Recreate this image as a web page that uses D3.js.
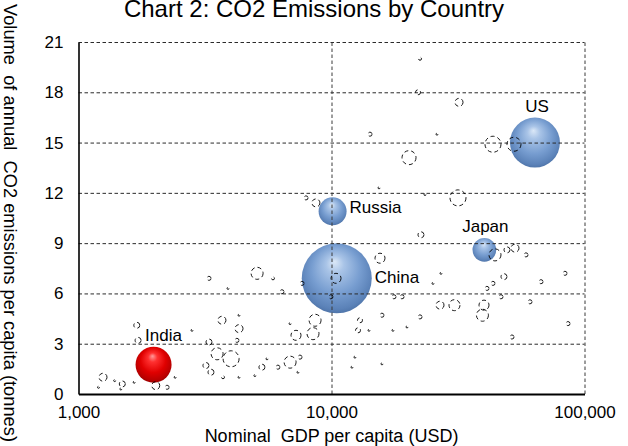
<!DOCTYPE html>
<html>
<head>
<meta charset="utf-8">
<script src="https://cdn.jsdelivr.net/npm/d3@7"></script>
<style>
  html, body { margin: 0; padding: 0; background: #fff; }
  svg { display: block; font-family: "Liberation Sans", Arial, sans-serif; }
</style>
</head>
<body>
<svg id="chart" width="628" height="446"></svg>
<script>
// ---- chart text ----
const chartTitle = "Chart 2: CO2 Emissions by Country";
const xTitle = "Nominal\u00a0 GDP per capita (USD)";
const yTitle = "Volume\u00a0 of annual\u00a0 CO2 emissions per capita (tonnes)";

// ---- labelled countries ----
const majorCountries = ["US", "China", "Japan", "Russia", "India"];
const majorGdp       = [63700, 10490, 40200, 10100, 1980];   // USD per capita
const majorCo2       = [15.0, 6.9, 8.6, 10.9, 1.75];         // tonnes per capita
const majorEmissions = [5100, 10000, 1150, 1600, 2650];      // total, Mt

// ---- all other countries ----
const otherGdp = [
  22380, 21980, 31920, 14200, 26120, 43480, 52640, 20250, 15410, 23420,
  31620, 7930, 8680, 22580, 15550, 44280, 49390, 53130, 58720, 48060,
  43480, 41170, 67310, 83740, 46770, 60890, 27090, 25190, 17660, 19000,
  26850, 30630, 40070, 39500, 86060, 51690, 12960, 15830, 22380, 12730,
  14070, 17500, 19880, 12380, 12050, 15830, 10420, 9950, 8610, 8450,
  7240, 6860, 5080, 5870, 7650, 6370, 3280, 3900, 4310, 4310,
  4230, 4010, 3530, 3690, 2810, 3280, 1700, 1720, 3190, 3340,
  3725, 4310, 4980, 5310, 5560, 6140, 6860, 7510, 7370, 1250,
  1390, 1200, 1490, 1470, 1660, 2020, 2240, 2410
];
const otherCo2 = [
  20.0, 18.0, 17.4, 15.5, 15.5, 14.9, 14.9, 14.1, 12.3, 11.9,
  11.7, 11.7, 11.4, 9.5, 8.1, 8.3, 8.6, 8.7, 8.3, 7.0,
  6.6, 6.3, 6.7, 7.2, 5.8, 5.5, 7.2, 6.6, 5.8, 5.8,
  5.3, 5.3, 5.3, 4.7, 4.2, 3.4, 4.4, 4.7, 4.6, 3.8,
  3.8, 3.8, 4.0, 2.2, 1.6, 1.8, 6.9, 5.8, 4.4, 3.6,
  3.5, 4.2, 7.2, 6.9, 6.6, 6.1, 6.9, 6.3, 3.9, 4.7,
  3.2, 2.1, 2.4, 4.4, 3.8, 3.1, 4.1, 3.2, 1.7, 1.3,
  1.0, 1.0, 1.1, 1.6, 2.1, 1.6, 1.9, 2.2, 1.3, 1.0,
  0.8, 0.4, 0.6, 0.3, 0.7, 0.5, 0.4, 1.0
];
const otherEmissions = [
  18, 51, 131, 33, 8, 522, 400, 400, 8, 8,
  522, 33, 131, 73, 204, 294, 73, 131, 33, 73,
  33, 33, 33, 33, 33, 33, 8, 8, 33, 33,
  131, 247, 204, 294, 33, 33, 51, 33, 33, 51,
  8, 8, 8, 8, 8, 8, 204, 33, 294, 294,
  204, 8, 294, 18, 33, 33, 33, 8, 131, 8,
  33, 522, 294, 131, 8, 73, 73, 73, 73, 73,
  18, 8, 8, 73, 8, 33, 294, 33, 8, 131,
  8, 8, 73, 8, 8, 131, 33, 8
];

// ---- axis ticks ----
const xTicks = [1000, 10000, 100000];
const yTicks = [0, 3, 6, 9, 12, 15, 18, 21];

// ---- layout ----
const plot = { left: 78.5, right: 584.5, top: 42, bottom: 394 };
const labelPlacement = {
  US:     { pos: "above", dx: 2, dy: 0 },
  China:  { pos: "right", dx: 0, dy: 0 },
  Japan:  { pos: "above", dx: 1, dy: 0 },
  Russia: { pos: "right", dx: 0, dy: -3 },
  India:  { pos: "above", dx: 10, dy: 0 }
};

const svg = d3.select("#chart");

const x = d3.scaleLog().domain([1000, 100000]).range([plot.left, plot.right]);
const y = d3.scaleLinear().domain([0, 21]).range([plot.bottom, plot.top]);
const r = d3.scaleSqrt().domain([0, 10000]).range([0, 35]);

// sphere shading for the bubbles
const defs = svg.append("defs");
function sphere(id, stops) {
  const g = defs.append("radialGradient").attr("id", id)
    .attr("cx", "50%").attr("cy", "45%").attr("r", "58%")
    .attr("fx", "47%").attr("fy", "26%");
  stops.forEach(([o, c]) => g.append("stop").attr("offset", o).attr("stop-color", c));
}
sphere("blueSphere", [["0%", "#dbe8f7"], ["22%", "#a9c4e7"], ["60%", "#779dd0"], ["88%", "#5b82b8"], ["100%", "#4a6fa3"]]);
sphere("redSphere",  [["0%", "#ff9a9a"], ["22%", "#ff3030"], ["60%", "#e00000"], ["88%", "#b80000"], ["100%", "#8c0000"]]);

const major = majorCountries.map((name, i) => ({
  name, gdp: majorGdp[i], co2: majorCo2[i], emissions: majorEmissions[i]
}));
const others = otherGdp.map((g, i) => ({
  gdp: g, co2: otherCo2[i], emissions: otherEmissions[i]
}));

// title (sits against the top edge)
svg.append("text")
  .attr("x", 314).attr("y", 17)
  .attr("text-anchor", "middle")
  .attr("font-size", 24)
  .attr("fill", "#000")
  .text(chartTitle);

// big bubbles (drawn beneath the grid)
svg.append("g").selectAll("circle")
  .data(major.slice().sort((a, b) => b.emissions - a.emissions))
  .join("circle")
  .attr("cx", d => x(d.gdp))
  .attr("cy", d => y(d.co2))
  .attr("r", d => r(d.emissions))
  .attr("fill", d => d.name === "India" ? "url(#redSphere)" : "url(#blueSphere)");

// horizontal grid
const hGrid = svg.append("g")
  .attr("transform", `translate(${plot.left},0)`)
  .call(d3.axisLeft(y).tickValues(yTicks.filter(v => v > 0))
    .tickSize(-(plot.right - plot.left)).tickFormat(""));
hGrid.select(".domain").remove();
hGrid.selectAll("line")
  .attr("stroke", "#2b2b2b").attr("stroke-width", 1)
  .attr("stroke-dasharray", "3.5,2.5");

// vertical grid
const vGrid = svg.append("g")
  .attr("transform", `translate(0,${plot.bottom})`)
  .call(d3.axisBottom(x).tickValues(xTicks.filter(v => v > 1000))
    .tickSize(-(plot.bottom - plot.top)).tickFormat(""));
vGrid.select(".domain").remove();
vGrid.selectAll("line")
  .attr("stroke", "#3a3a3a").attr("stroke-width", 1)
  .attr("stroke-dasharray", "3.5,2.5");

// small countries: dashed outlines
svg.append("g").selectAll("circle")
  .data(others)
  .join("circle")
  .attr("cx", d => x(d.gdp))
  .attr("cy", d => y(d.co2))
  .attr("r", d => r(d.emissions))
  .attr("fill", "none")
  .attr("stroke", "#000")
  .attr("stroke-width", 0.9)
  .attr("stroke-dasharray", "4,3");

// axes
const yAxis = svg.append("g")
  .attr("transform", `translate(${plot.left},0)`)
  .call(d3.axisLeft(y).tickValues(yTicks).tickSize(0).tickPadding(15)
    .tickFormat(d3.format("d")));
yAxis.select(".domain").attr("stroke", "#000").attr("stroke-width", 1.6);
yAxis.selectAll("text").attr("font-size", 17).attr("fill", "#000")
  .attr("font-family", "Liberation Sans, Arial, sans-serif");

const xAxis = svg.append("g")
  .attr("transform", `translate(0,${plot.bottom})`)
  .call(d3.axisBottom(x).tickValues(xTicks).tickSize(0).tickPadding(12)
    .tickFormat(d3.format(",")));
xAxis.select(".domain").attr("stroke", "#000").attr("stroke-width", 2);
xAxis.selectAll("text").attr("font-size", 17).attr("fill", "#000")
  .attr("font-family", "Liberation Sans, Arial, sans-serif");

// axis titles
svg.append("text")
  .attr("x", (plot.left + plot.right) / 2).attr("y", 442)
  .attr("text-anchor", "middle").attr("font-size", 18)
  .text(xTitle);

svg.append("text")
  .attr("transform", "translate(4,223) rotate(90)")
  .attr("text-anchor", "middle").attr("font-size", 18.3)
  .text(yTitle);

// country labels
svg.append("g").selectAll("text")
  .data(major)
  .join("text")
  .attr("font-size", 17)
  .attr("fill", "#000")
  .attr("text-anchor", d => labelPlacement[d.name].pos === "above" ? "middle" : "start")
  .attr("x", d => {
    const p = labelPlacement[d.name];
    const cx = x(d.gdp), rr = r(d.emissions);
    return (p.pos === "right" ? cx + rr + 3 : cx) + p.dx;
  })
  .attr("y", d => {
    const p = labelPlacement[d.name];
    const cy = y(d.co2), rr = r(d.emissions);
    return (p.pos === "right" ? cy + 5 : cy - rr - 6) + p.dy;
  })
  .text(d => d.name);
</script>
</body>
</html>
